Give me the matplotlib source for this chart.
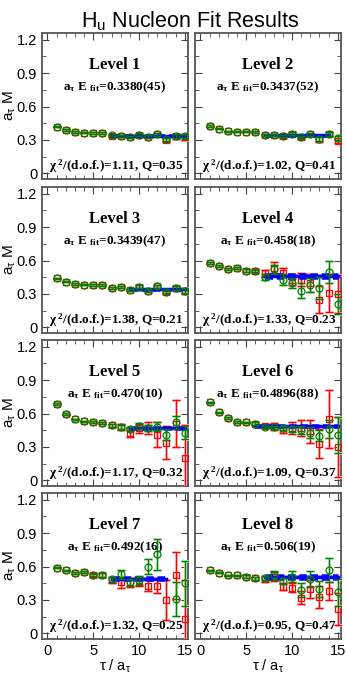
import numpy as np
import matplotlib
matplotlib.use("Agg")
import matplotlib.pyplot as plt
from matplotlib.ticker import MultipleLocator

plt.rcParams['mathtext.fontset'] = 'custom'
plt.rcParams['mathtext.rm'] = 'Liberation Serif:bold'
plt.rcParams['mathtext.it'] = 'Liberation Serif:bold'
plt.rcParams['mathtext.bf'] = 'Liberation Serif:bold'
plt.rcParams['mathtext.sf'] = 'Liberation Sans'
plt.rcParams['font.family'] = ['Liberation Sans', 'DejaVu Sans']

# time slices
tau = np.arange(1, 16)
nan = np.nan

# green circles / red squares, one list per level
green = [
 [0.420,0.390,0.372,0.365,0.362,0.362,0.342,0.337,0.330,0.347,0.330,0.352,0.305,0.335,0.338],
 [0.425,0.400,0.380,0.376,0.375,0.372,0.347,0.347,0.335,0.357,0.327,0.352,0.310,0.357,0.320],
 [0.440,0.410,0.390,0.382,0.382,0.382,0.357,0.360,0.338,0.365,0.330,0.370,0.322,0.355,0.330],
 [0.580,0.550,0.525,0.535,0.510,0.505,0.455,0.520,0.430,0.400,0.330,0.380,0.355,0.495,0.210],
 [0.685,0.595,0.548,0.530,0.522,0.518,0.495,0.480,0.460,0.490,0.470,0.480,0.410,0.520,0.430],
 [0.700,0.610,0.560,0.525,0.520,0.510,0.480,0.475,0.470,0.460,0.455,0.430,0.400,0.460,0.405],
 [0.590,0.565,0.545,0.550,0.525,0.525,0.485,0.530,0.460,0.475,0.600,0.710,nan,0.310,0.450],
 [0.565,0.545,0.520,0.520,0.510,0.495,0.495,0.520,0.470,0.510,0.390,0.490,0.400,0.570,0.370]]
green_err = [
 [0.006,0.005,0.005,0.005,0.006,0.006,0.008,0.009,0.010,0.012,0.012,0.013,0.015,0.017,0.020],
 [0.006,0.005,0.005,0.005,0.006,0.006,0.008,0.009,0.010,0.012,0.012,0.013,0.015,0.017,0.020],
 [0.006,0.005,0.005,0.005,0.006,0.006,0.008,0.009,0.010,0.012,0.012,0.013,0.015,0.017,0.020],
 [0.008,0.008,0.009,0.010,0.010,0.012,0.025,0.040,0.045,0.045,0.070,0.060,0.100,0.100,0.090],
 [0.006,0.006,0.006,0.007,0.008,0.010,0.012,0.015,0.020,0.025,0.030,0.040,0.050,0.060,0.060],
 [0.006,0.006,0.006,0.007,0.008,0.010,0.012,0.015,0.020,0.025,0.035,0.050,0.050,0.080,0.160],
 [0.007,0.007,0.008,0.010,0.012,0.015,0.020,0.040,0.030,0.040,0.070,0.140,nan,0.150,0.200],
 [0.006,0.006,0.007,0.008,0.010,0.012,0.020,0.040,0.030,0.050,0.060,0.070,0.070,0.110,0.120]]
red = [
 [0.420,0.390,0.372,0.365,0.362,0.362,0.340,0.335,0.328,0.345,0.330,0.350,0.300,0.333,0.325],
 [0.425,0.400,0.380,0.376,0.375,0.372,0.345,0.347,0.333,0.355,0.325,0.350,0.305,0.355,0.295],
 [0.440,0.410,0.390,0.382,0.382,0.382,0.355,0.360,0.337,0.365,0.330,0.368,0.320,0.350,0.325],
 [0.580,0.550,0.525,0.535,0.510,0.505,0.485,0.535,0.490,0.430,0.430,0.395,0.250,0.305,0.300],
 [0.685,0.595,0.548,0.530,0.522,0.518,0.495,0.480,0.430,0.470,0.470,0.410,0.340,0.510,0.200],
 [0.700,0.610,0.560,0.525,0.520,0.510,0.490,0.485,0.455,0.470,0.470,0.440,0.330,0.550,0.300],
 [0.590,0.565,0.545,0.550,0.525,0.525,0.480,0.460,0.460,0.470,0.430,0.430,0.300,0.520,0.130],
 [0.565,0.545,0.520,0.520,0.510,0.495,0.490,0.510,0.420,0.410,0.320,0.400,0.330,0.380,0.220]]
red_err = [
 [0.006,0.005,0.005,0.005,0.006,0.006,0.009,0.010,0.011,0.013,0.013,0.015,0.018,0.020,0.025],
 [0.006,0.005,0.005,0.005,0.006,0.006,0.009,0.010,0.011,0.013,0.013,0.015,0.020,0.020,0.025],
 [0.006,0.005,0.005,0.005,0.006,0.006,0.009,0.010,0.011,0.013,0.013,0.015,0.018,0.020,0.025],
 [0.008,0.008,0.009,0.010,0.012,0.015,0.030,0.050,0.040,0.050,0.060,0.080,0.120,0.170,0.170],
 [0.006,0.006,0.006,0.007,0.008,0.010,0.015,0.030,0.040,0.040,0.050,0.110,0.150,0.210,0.300],
 [0.006,0.006,0.006,0.007,0.008,0.012,0.020,0.030,0.030,0.050,0.070,0.100,0.130,0.260,0.270],
 [0.007,0.007,0.008,0.010,0.015,0.020,0.025,0.050,0.040,0.040,0.050,0.070,0.180,0.210,0.350],
 [0.006,0.006,0.007,0.008,0.010,0.015,0.025,0.040,0.030,0.040,0.060,0.080,0.100,0.080,0.140]]

# fit results
fit_E = [0.3380, 0.3437, 0.3439, 0.458, 0.470, 0.4896, 0.492, 0.506]
fit_dE = [0.0045, 0.0052, 0.0047, 0.018, 0.010, 0.0088, 0.016, 0.019]
fit_lbl = ['0.3380(45)', '0.3437(52)', '0.3439(47)', '0.458(18)',
           '0.470(10)', '0.4896(88)', '0.492(16)', '0.506(19)']
tmin = [7, 7, 9, 7, 9, 6, 7, 7]
tmax = [15, 14, 15, 15, 15, 15, 13, 15]
chi2 = ['1.11', '1.02', '1.38', '1.33', '1.17', '1.09', '1.32', '0.95']
qval = ['0.35', '0.41', '0.21', '0.23', '0.32', '0.37', '0.25', '0.47']

fig = plt.figure(figsize=(3.46, 6.74), dpi=100)
fig.text(0.55, 0.987, r'H$_\mathsf{u}$ Nucleon Fit Results', ha='center', va='top', fontsize=15.5)

lefts = [42/346., 195/346.]
tops = [33, 187, 340, 493]
w = 146/346.
h = 146/674.

for i in range(8):
    row = i // 2
    col = i % 2
    ax = fig.add_axes([lefts[col], 1 - (tops[row] + 146)/674., w, h])

    # fit band
    xf = np.array([tmin[i], tmax[i]])
    ax.fill_between(xf, fit_E[i] - fit_dE[i], fit_E[i] + fit_dE[i], color='#a8b0ff', lw=0, zorder=1)
    ax.plot(xf, [fit_E[i] + fit_dE[i]]*2, color='blue', ls=(0, (3, 1.5)), lw=1.8, zorder=4.5)
    ax.plot(xf, [fit_E[i] - fit_dE[i]]*2, color='blue', ls=(0, (3, 1.5)), lw=1.8, zorder=4.5)
    ax.plot(xf, [fit_E[i]]*2, color='blue', lw=2.5, zorder=4.5)

    # faint shadows then data
    ax.errorbar(tau, red[i], yerr=red_err[i], fmt='none', ecolor='#f8bcbc', elinewidth=2,
                capsize=3, capthick=2, zorder=3)
    ax.errorbar(tau, green[i], yerr=green_err[i], fmt='none', ecolor='#bce0bc', elinewidth=2,
                capsize=3, capthick=2, zorder=3)
    ax.errorbar(tau, red[i], yerr=red_err[i], fmt='s', color='red', mfc='none', mec='red',
                ms=4.5, mew=0.9, elinewidth=0.9, capsize=3, capthick=0.9, zorder=4)
    ax.errorbar(tau, green[i], yerr=green_err[i], fmt='o', color='green', mfc='none', mec='green',
                ms=5, mew=0.9, elinewidth=0.9, capsize=3, capthick=0.9, zorder=5)

    ax.set_xlim(-0.6, 15.35)
    ax.set_ylim(-0.05, 1.26)
    ax.xaxis.set_major_locator(MultipleLocator(5))
    ax.xaxis.set_minor_locator(MultipleLocator(1))
    ax.yaxis.set_major_locator(MultipleLocator(0.3))
    ax.yaxis.set_minor_locator(MultipleLocator(0.15))
    ax.tick_params(which='both', direction='in', top=True, right=True, labelsize=10.5, color='#444444')
    ax.tick_params(which='major', length=5)
    ax.tick_params(which='minor', length=3)
    for s in ax.spines.values():
        s.set_color('#555555')
        s.set_linewidth(1.3)
    ax.set_yticks([0, 0.3, 0.6, 0.9, 1.2])
    ax.set_yticklabels(['0', '0.3', '0.6', '0.9', '1.2'])
    if col == 1:
        ax.set_yticklabels([])
    else:
        ax.set_ylabel(r'$\mathsf{a_{\tau}\ M}$', fontsize=11)
        ax.yaxis.set_label_coords(-0.165, 0.5)
    if row < 3:
        ax.set_xticklabels([])
    else:
        ax.set_xlabel(r'$\mathsf{\tau\ /\ a_{\tau}}$', fontsize=10.5, labelpad=0)

    ax.text(0.5, 0.78, 'Level %d' % (i + 1), transform=ax.transAxes, ha='center', va='center',
            fontsize=12, family='Liberation Serif', weight='bold')
    ax.text(0.5, 0.63, r'$\mathrm{a_{\tau}\ E_{\ fit}}$=' + fit_lbl[i], transform=ax.transAxes,
            ha='center', va='center', fontsize=9.5, family='Liberation Serif', weight='bold')
    ax.text(0.51, 0.085, r'$\mathrm{\chi^{\ 2}}$/(d.o.f.)=' + chi2[i] + ', Q=' + qval[i],
            transform=ax.transAxes, ha='center', va='center', fontsize=9.5,
            family='Liberation Serif', weight='bold')

plt.savefig('out.png', dpi=100)
